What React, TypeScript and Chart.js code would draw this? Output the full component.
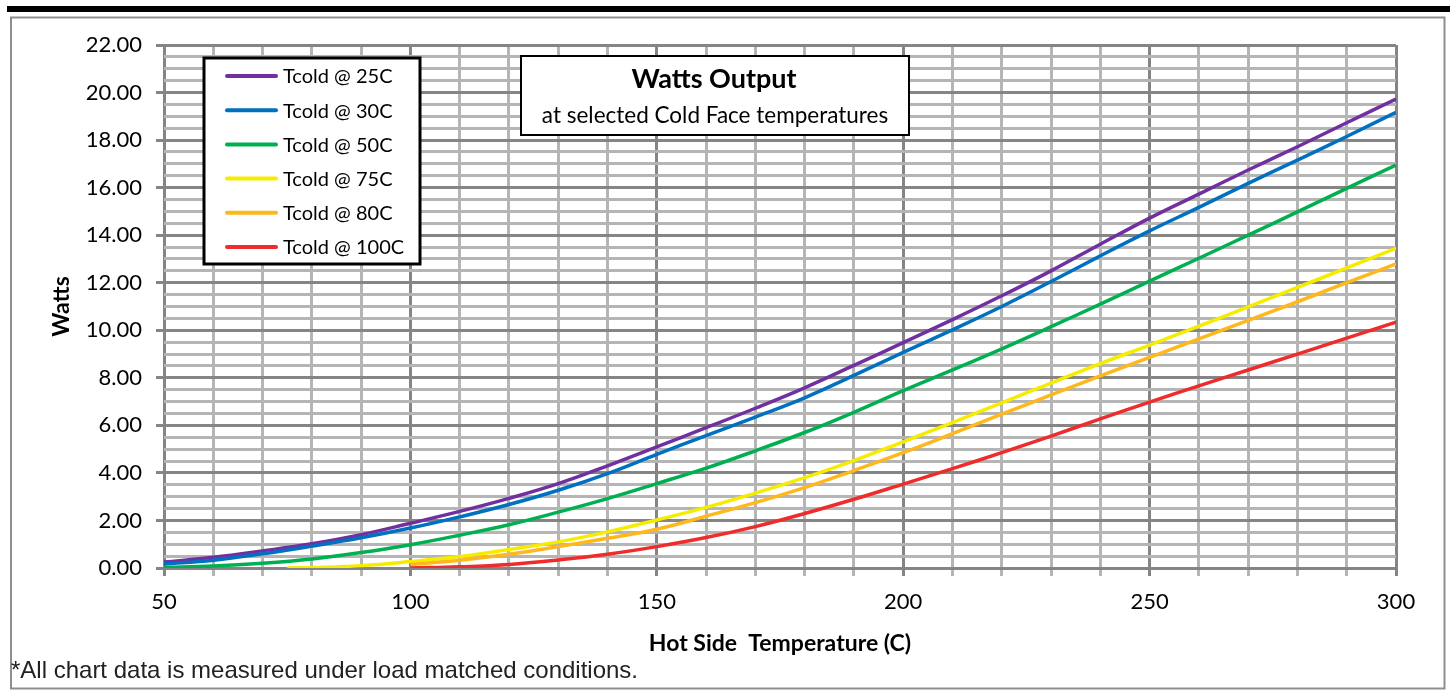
import React, { useEffect, useRef } from "react";
import { Chart, registerables } from "chart.js";

Chart.register(...registerables);

// ---- Data ----
const TEMPS_FROM_50 = [50, 60, 70, 80, 90, 100, 110, 120, 130, 140, 150, 160, 170, 180, 190, 200, 210, 220, 230, 240, 250, 260, 270, 280, 290, 300];
const TEMPS_FROM_75 = [75, 80, 90, 100, 110, 120, 130, 140, 150, 160, 170, 180, 190, 200, 210, 220, 230, 240, 250, 260, 270, 280, 290, 300];
const TEMPS_FROM_100 = [100, 110, 120, 130, 140, 150, 160, 170, 180, 190, 200, 210, 220, 230, 240, 250, 260, 270, 280, 290, 300];

const TCOLD_25 = [0.25, 0.45, 0.72, 1.02, 1.4, 1.88, 2.38, 2.93, 3.55, 4.3, 5.1, 5.9, 6.72, 7.58, 8.52, 9.48, 10.45, 11.45, 12.5, 13.62, 14.72, 15.73, 16.74, 17.72, 18.73, 19.73];
const TCOLD_30 = [0.17, 0.33, 0.6, 0.92, 1.27, 1.68, 2.15, 2.67, 3.27, 3.97, 4.78, 5.57, 6.35, 7.16, 8.1, 9.07, 10.02, 11.0, 12.05, 13.13, 14.18, 15.17, 16.18, 17.16, 18.15, 19.17];
const TCOLD_50 = [0.02, 0.08, 0.2, 0.38, 0.65, 0.98, 1.38, 1.82, 2.35, 2.92, 3.55, 4.2, 4.93, 5.7, 6.55, 7.46, 8.33, 9.22, 10.15, 11.1, 12.07, 13.03, 14.0, 14.98, 15.97, 16.95];
const TCOLD_75 = [0.0, 0.02, 0.1, 0.27, 0.48, 0.78, 1.1, 1.52, 2.02, 2.55, 3.15, 3.8, 4.52, 5.31, 6.12, 6.95, 7.78, 8.6, 9.38, 10.17, 10.98, 11.8, 12.62, 13.45];
const TCOLD_80 = [0.15, 0.33, 0.58, 0.9, 1.25, 1.63, 2.18, 2.75, 3.38, 4.1, 4.85, 5.65, 6.47, 7.28, 8.08, 8.86, 9.64, 10.42, 11.2, 12.0, 12.79];
const TCOLD_100 = [0.0, 0.05, 0.15, 0.34, 0.58, 0.9, 1.28, 1.74, 2.29, 2.89, 3.53, 4.18, 4.85, 5.55, 6.27, 6.98, 7.66, 8.33, 9.0, 9.67, 10.34];

const SERIES_LABELS = ["Tcold @ 25C", "Tcold @ 30C", "Tcold @ 50C", "Tcold @ 75C", "Tcold @ 80C", "Tcold @ 100C"];
const SERIES_TEMPS = [TEMPS_FROM_50, TEMPS_FROM_50, TEMPS_FROM_50, TEMPS_FROM_75, TEMPS_FROM_100, TEMPS_FROM_100];
const SERIES_VALUES = [TCOLD_25, TCOLD_30, TCOLD_50, TCOLD_75, TCOLD_80, TCOLD_100];
const SERIES_COLORS = ["#7030A0", "#0070C0", "#00B050", "#F5EC00", "#FFB81C", "#EE2C2C"];

const X_MIN = 50;
const X_MAX = 300;
const X_STEP = 10;
const X_LABEL_EVERY = 50;
const Y_MIN = 0;
const Y_MAX = 22;
const Y_STEP = 0.5;
const Y_LABEL_EVERY = 2;

const TITLE = "Watts Output";
const SUBTITLE = "at selected Cold Face temperatures";
const X_TITLE = "Hot Side  Temperature (C)";
const Y_TITLE = "Watts";
const FOOTNOTE = "*All chart data is measured under load matched conditions.";

const MAJOR = "#858585";
const MINOR = "#b5b5b5";
const FONT = "Lato";

const isMult = (v: number, m: number) => Math.abs(v / m - Math.round(v / m)) < 1e-6;

const decorPlugin = {
  id: "decor",
  beforeDraw(chart: any) {
    const ctx = chart.ctx as CanvasRenderingContext2D;
    ctx.save();
    ctx.fillStyle = "#ffffff";
    ctx.fillRect(0, 0, chart.width, chart.height);
    ctx.fillStyle = "#000000";
    ctx.fillRect(7, 6, chart.width - 7, 6);
    ctx.strokeStyle = "#8e8e8e";
    ctx.lineWidth = 2;
    ctx.strokeRect(11, 17.5, 1433.5, 671);
    ctx.restore();
  },
  afterDraw(chart: any) {
    const ctx = chart.ctx as CanvasRenderingContext2D;
    ctx.save();
    // Title box
    ctx.fillStyle = "#ffffff";
    ctx.fillRect(521, 56, 388, 79);
    ctx.strokeStyle = "#000000";
    ctx.lineWidth = 2;
    ctx.strokeRect(521, 56, 388, 79);
    ctx.fillStyle = "#000000";
    ctx.textAlign = "center";
    ctx.textBaseline = "alphabetic";
    ctx.font = `bold 27px ${FONT}`;
    ctx.fillText(TITLE, 714, 88);
    ctx.font = `22.5px ${FONT}`;
    ctx.fillText(SUBTITLE, 715, 123);

    // Legend box
    ctx.fillStyle = "#ffffff";
    ctx.fillRect(204, 58, 216, 206);
    ctx.lineWidth = 3;
    ctx.strokeStyle = "#000000";
    ctx.strokeRect(204, 58, 216, 206);
    ctx.textAlign = "left";
    ctx.textBaseline = "middle";
    ctx.font = `20px ${FONT}`;
    chart.data.datasets.forEach((ds: any, i: number) => {
      const y = 76 + i * 34.2;
      ctx.strokeStyle = ds.borderColor;
      ctx.lineWidth = 4;
      ctx.lineCap = "round";
      ctx.beginPath();
      ctx.moveTo(227, y);
      ctx.lineTo(276, y);
      ctx.stroke();
      ctx.fillStyle = "#000000";
      ctx.fillText(ds.label, 283, y + 1);
    });

    // Footnote
    ctx.font = `24px "Liberation Sans", Arial, sans-serif`;
    ctx.textAlign = "left";
    ctx.textBaseline = "alphabetic";
    ctx.fillStyle = "#222222";
    ctx.fillText(FOOTNOTE, 11, 678);
    ctx.restore();
  },
};

export default function App() {
  const canvasRef = useRef<HTMLCanvasElement | null>(null);

  useEffect(() => {
    document.body.style.margin = "0";
    const canvas = canvasRef.current;
    if (!canvas) return;
    const datasets = SERIES_LABELS.map((label, i) => ({
      label,
      data: SERIES_TEMPS[i].map((t, j) => ({ x: t, y: SERIES_VALUES[i][j] })),
      borderColor: SERIES_COLORS[i],
      backgroundColor: SERIES_COLORS[i],
      borderWidth: 3.5,
      pointRadius: 0,
      fill: false,
      tension: 0.4,
      order: SERIES_LABELS.length - i,
    }));

    const chart = new Chart(canvas, {
      type: "line",
      data: { datasets },
      plugins: [decorPlugin],
      options: {
        animation: false,
        responsive: false,
        devicePixelRatio: 1,
        layout: { padding: { left: 0, top: 45, right: 54, bottom: 0 } },
        plugins: {
          legend: { display: false },
          title: { display: false },
          tooltip: { enabled: false },
        },
        scales: {
          x: {
            type: "linear",
            min: X_MIN,
            max: X_MAX,
            afterFit: (scale: any) => {
              scale.height = 122;
            },
            ticks: {
              stepSize: X_STEP,
              autoSkip: false,
              maxRotation: 0,
              padding: 13,
              color: "#000000",
              font: { family: FONT, size: 22 },
              callback: (v: any) => (isMult(Number(v), X_LABEL_EVERY) ? String(v) : ""),
            },
            grid: {
              color: (c: any) => (c.tick && isMult(c.tick.value, X_LABEL_EVERY) ? MAJOR : MINOR),
              tickColor: (c: any) => (c.tick && isMult(c.tick.value, X_LABEL_EVERY) ? MAJOR : MINOR),
              lineWidth: 3,
              tickWidth: 3,
              tickLength: 8,
              drawTicks: true,
            },
            border: { display: false },
            title: {
              display: true,
              text: X_TITLE,
              color: "#000000",
              font: { family: FONT, size: 23, weight: "bold" },
              padding: { top: 0, bottom: 33 },
            },
          },
          y: {
            type: "linear",
            min: Y_MIN,
            max: Y_MAX,
            afterFit: (scale: any) => {
              scale.width = 164;
            },
            ticks: {
              stepSize: Y_STEP,
              autoSkip: false,
              padding: 14,
              color: "#000000",
              font: { family: FONT, size: 22 },
              callback: (v: any) => (isMult(Number(v), Y_LABEL_EVERY) ? Number(v).toFixed(2) : ""),
            },
            grid: {
              color: (c: any) => (c.tick && isMult(c.tick.value, Y_LABEL_EVERY) ? MAJOR : MINOR),
              tickColor: (c: any) => (c.tick && isMult(c.tick.value, Y_LABEL_EVERY) ? MAJOR : "rgba(0,0,0,0)"),
              lineWidth: 3,
              tickWidth: 3,
              tickLength: 8,
              drawTicks: true,
            },
            border: { display: false },
            title: {
              display: true,
              text: Y_TITLE,
              color: "#000000",
              font: { family: FONT, size: 23, weight: "bold" },
              padding: { top: 48, bottom: 0 },
            },
          },
        },
      },
    });
    return () => chart.destroy();
  }, []);

  return (
    <div style={{ position: "absolute", left: 0, top: 0, width: 1450, height: 690 }}>
      <canvas ref={canvasRef} width={1450} height={690} style={{ display: "block" }} />
    </div>
  );
}
